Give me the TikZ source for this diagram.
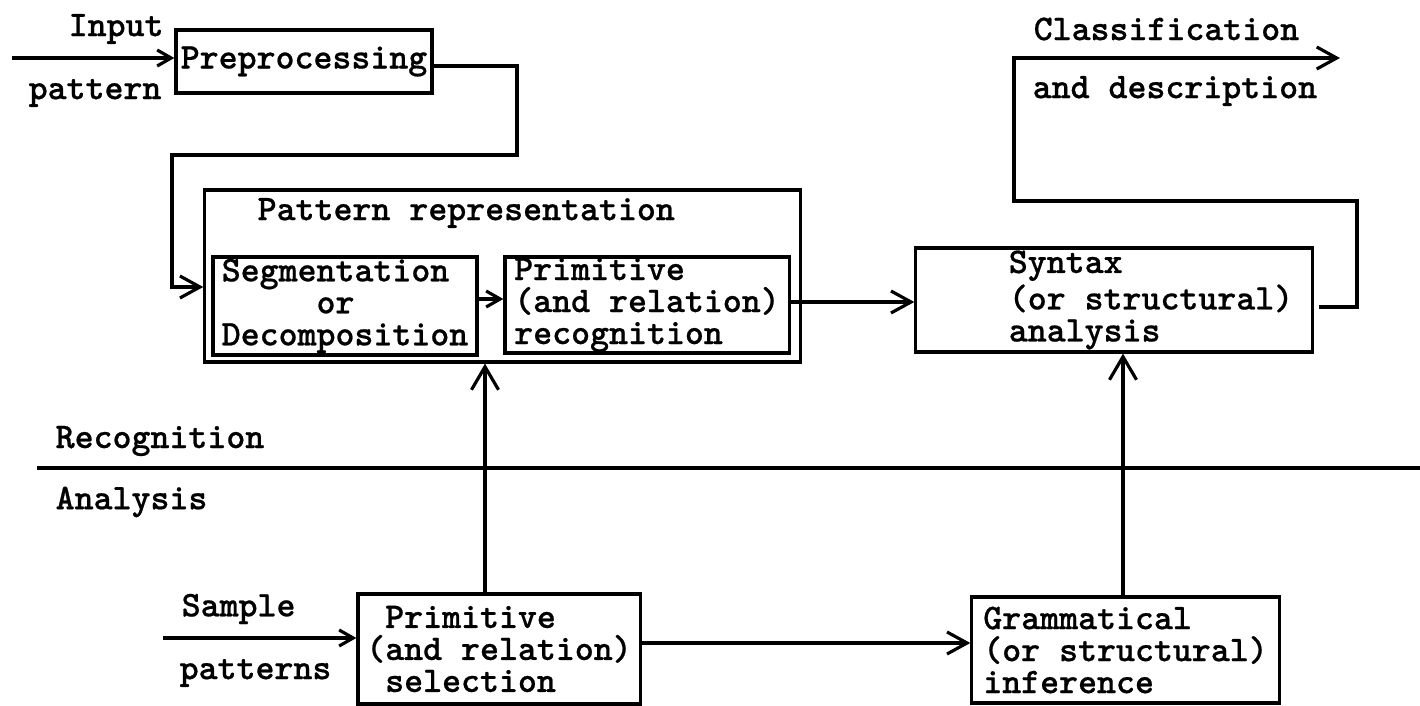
\documentclass[tikz,border=0pt]{standalone}
\usepackage{fontspec}
\newfontfamily\tw{lmmonolt10-bold.otf}[FakeBold=0.6]
\usetikzlibrary{arrows.meta}
\begin{document}
\begin{tikzpicture}[x=0.01cm,y=-0.01cm,
  font=\tw\fontsize{10.27}{9.1}\selectfont,
  box/.style={draw,line width=0.9pt,inner sep=0pt,align=left},
  lbl/.style={inner sep=0pt,anchor=west},
  conn/.style={line width=0.9pt},
  arr/.style={conn,-{Straight Barb[length=1.4mm,width=1.6mm]}},
  arrL/.style={conn,-{Straight Barb[length=2mm,width=2.2mm]}},
  arrU/.style={conn,-{Straight Barb[length=2.3mm,width=2.7mm]}}]
\useasboundingbox (0,0) rectangle (1420,706);

% boxes
\node[box,minimum width=2.56cm,minimum height=0.63cm] (pre) at (304,61.5) {Preprocessing};
\node[box,minimum width=5.95cm,minimum height=1.72cm] (outer) at (502.5,276) {};
\node[lbl] (prt) at (257,213) {Pattern representation};
\node[box,minimum width=2.64cm,minimum height=0.98cm] (seg) at (345,306)
  {Segmentation\\\phantom{xxxxx}or\\Decomposition};
\node[box,minimum width=2.84cm,minimum height=0.96cm] (prim) at (647,305)
  {Primitive\\(and relation)\\recognition};
\node[box,minimum width=3.96cm,minimum height=1.04cm] (syn) at (1114,300)
  {\hspace*{0.74cm}Syntax\\\hspace*{0.74cm}(or structural)\\\hspace*{0.74cm}analysis};
\node[box,minimum width=2.82cm,minimum height=1.10cm] (sel) at (499,649)
  {\phantom{x}Primitive\\(and relation)\\\phantom{x}selection};
\node[box,minimum width=3.07cm,minimum height=1.06cm] (gram) at (1125.5,650)
  {Grammatical\\(or structural)\\inference};

% labels
\node[lbl] (input) at (68,29) {Input};
\node[lbl] (pattern) at (28,93) {pattern};
\node[lbl] (clas) at (1033,29) {Classification};
\node[lbl] (desc) at (1032,91) {and description};
\node[lbl] (recog) at (55,441) {Recognition};
\node[lbl] (anal) at (55,502) {Analysis};
\node[lbl] (sample) at (181,609) {Sample};
\node[lbl] (patterns) at (179,673) {patterns};

% free ends
\coordinate (inS) at (12,58);
\coordinate (sampS) at (163,638);
\coordinate (out) at (1340,58);

% connectors
\draw[arr] (inS) -- (inS -| pre.west);
\draw[arrL] (pre.east |- 0,66) -| (517,155) -| (172,287) -- (outer.west |- 0,287);
\draw[arr] (seg.east |- 0,299) -- (prim.west |- 0,299);
\draw[arrL] (prim.east |- 0,302) -- (syn.west |- 0,302);
\draw[arrL] ([xshift=0.05cm]syn.east |- 0,307) -| (1357,201) -| (1014,58) -- (out);
\draw[arrU] (sel.north -| 485,0) -- (outer.south -| 485,0);
\draw[arrU] (gram.north -| 1123,0) -- (syn.south -| 1123,0);
\draw[arr] (sampS) -- (sel.west |- sampS);
\draw[arrL] (sel.east |- 0,643) -- (gram.west |- 0,643);

% recognition / analysis divider
\draw[conn] (37,468) -- (1420,468);
\end{tikzpicture}
\end{document}
